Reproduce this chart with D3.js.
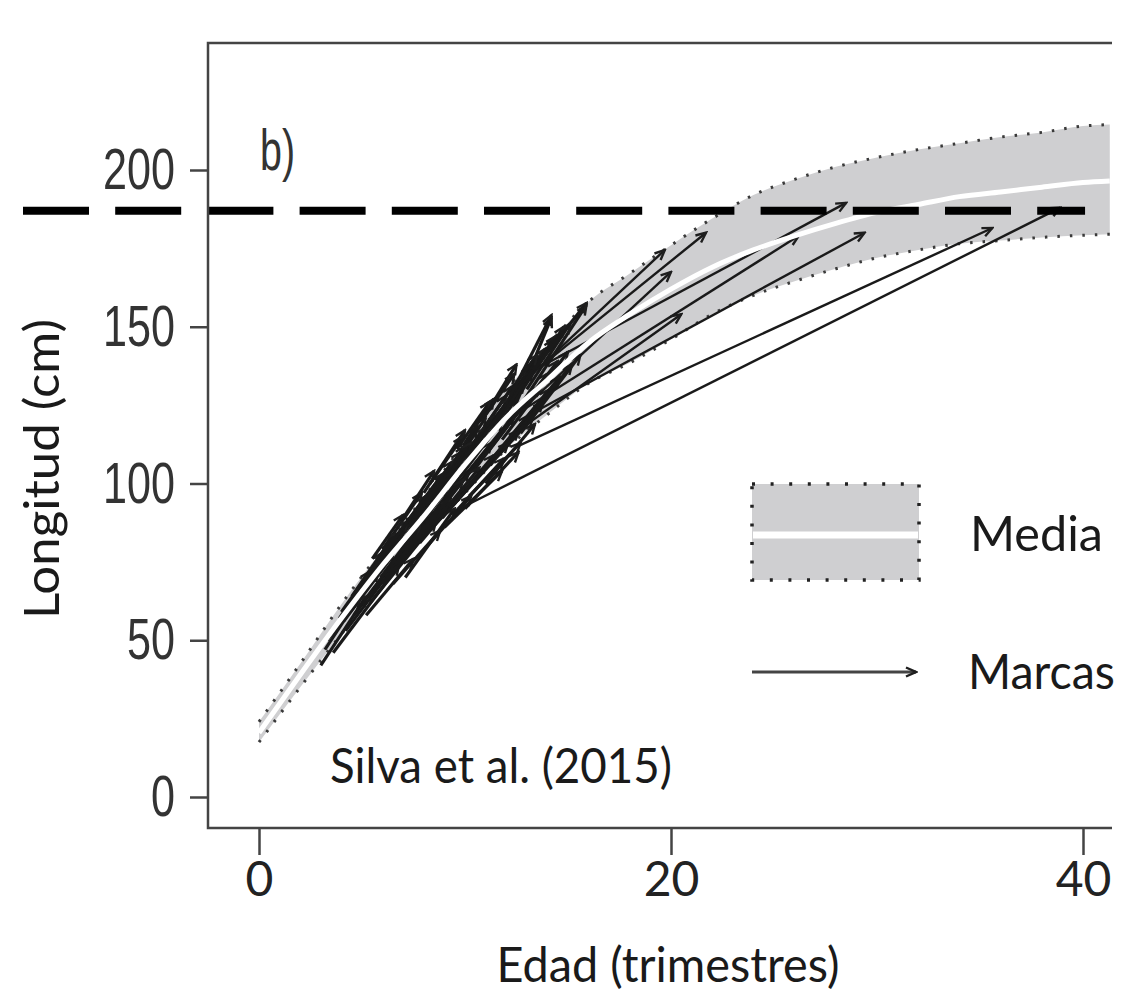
<!DOCTYPE html>
<html>
<head>
<meta charset="utf-8">
<script src="https://cdn.jsdelivr.net/npm/d3@7"></script>
<style>
  body { margin: 0; background: #fff; }
  svg { display: block; }
</style>
</head>
<body>
<svg id="chart" width="1126" height="998"></svg>
<script>
// growth band (age in quarters, length in cm)
var ages     = [0, 2, 4, 6, 8, 10, 12, 14, 16, 18, 20, 22, 24, 26, 28, 30, 32, 34, 36, 38, 40, 41.3];
var meanLen  = [20.5, 39, 57, 74, 89.5, 106, 121, 133, 145, 154, 162, 169, 174.5, 179, 183, 186.5, 189, 191.5, 193, 194.5, 196, 196.5];
var upperLen = [24, 42.5, 61.5, 79, 95.5, 113, 130, 144, 158, 167, 176, 184.5, 192, 197, 201, 204, 206.5, 208.5, 210.5, 212, 214, 214.5];
var lowerLen = [17.5, 35, 52, 68.5, 83, 97, 111, 122, 132, 138.5, 146, 154, 160, 164.5, 168.5, 172, 174.5, 176.5, 177.5, 178.5, 179.2, 179.5];

// tag -> recapture arrows (short ones in the cluster, then the long ones)
var tagAge = [3.2, 3.5, 3.8, 4.1, 4.4, 4.6, 5.0, 5.3, 5.6, 5.9, 6.2, 6.4, 6.8, 7.0, 7.3, 7.6, 7.9, 8.1, 8.4, 8.7,
              9.0, 9.2, 9.5, 9.8, 10.1, 10.4, 10.8, 11.1, 11.5, 11.8, 12.2, 12.6, 6.0, 8.0, 9.9, 11.0, 4.0, 7.1, 9.4, 10.2,
              3.0, 3.3, 3.6, 3.9, 4.2, 4.5, 4.8, 5.1, 5.4, 5.7, 6.0, 6.3, 6.6, 6.9, 7.2, 7.5, 7.8, 8.1, 8.3, 8.6,
              8.9, 9.1, 9.4, 9.7, 10.0, 10.3, 10.6, 10.9, 11.2, 11.6, 11.9, 12.3, 12.7, 13.0, 5.5, 6.9, 8.3, 9.6, 10.8, 12.0,
              5.2, 6.5, 7.9, 9.0, 10.0, 11.0,
              9.9, 12.6, 12.6, 13.6, 11.5, 13.8, 12.8, 13.0, 12.6, 13.3, 12.2];
var tagLen = [47, 52, 55, 56, 62, 58, 66, 64, 71, 70, 77, 73, 80, 78, 86, 83, 90, 87, 94, 91,
              99, 95, 102, 100, 108, 104, 112, 110, 117, 114, 121, 124, 79, 97, 112, 122, 59, 70, 90, 96,
              42, 50, 46, 57, 53, 64, 60, 69, 62, 74, 68, 80, 74, 85, 77, 89, 81, 93, 85, 97,
              89, 102, 93, 106, 98, 110, 102, 115, 107, 120, 111, 125, 116, 130, 76, 88, 100, 111, 120, 128,
              58, 68, 78, 86, 92, 100,
              92.5, 112, 120, 137, 118, 138, 132, 125, 117, 136, 128];
var recAge = [6.1, 5.8, 7.0, 6.5, 7.6, 8.2, 8.0, 9.1, 9.0, 8.4, 9.8, 10.2, 10.0, 11.3, 10.6, 11.8, 11.0, 12.4, 12.0, 12.8,
              12.3, 13.0, 13.2, 13.6, 13.4, 14.0, 13.9, 14.5, 14.3, 15.0, 14.2, 15.9, 7.9, 10.0, 11.4, 12.5, 5.4, 9.5, 11.9, 12.7,
              5.2, 4.9, 6.8, 6.0, 7.3, 6.6, 7.8, 7.2, 8.6, 8.1, 9.3, 8.9, 9.9, 9.4, 10.7, 10.3, 11.4, 11.1, 12.1, 11.6,
              12.6, 12.2, 13.3, 12.9, 13.8, 13.3, 14.1, 13.7, 14.6, 14.4, 15.2, 14.8, 15.6, 15.1, 7.0, 8.5, 9.9, 11.2, 12.4, 13.5,
              7.5, 8.8, 10.3, 11.8, 12.6, 13.4,
              38.9, 35.6, 29.4, 28.5, 26.2, 21.7, 19.7, 20.0, 20.5, 15.9, 14.2];
var recLen = [76, 72, 85, 77, 90, 89, 93, 98, 103, 92, 110, 104, 112, 113, 118, 120, 121, 122, 128, 125,
              131, 127, 137, 131, 139, 135, 143, 139, 146, 142, 153, 157, 97, 117, 127, 138, 72, 92, 108, 113,
              64, 63, 74, 78, 80, 84, 86, 88, 88, 96, 95, 103, 101, 107, 105, 113, 109, 118, 113, 122,
              117, 127, 121, 132, 126, 136, 130, 141, 134, 147, 138, 150, 141, 151, 90, 104, 115, 126, 135, 141,
              76, 85, 96, 104, 110, 119,
              188, 181.5, 180, 189.5, 179, 180, 174.5, 167.5, 154, 157.6, 153.7];

var xTicks = [0, 20, 40];
var yTicks = [0, 50, 100, 150, 200];
var refLength = 187;   // dashed reference length
var refSpan = [-12.5, 40.1];

var svg = d3.select('#chart');
var x = d3.scaleLinear().domain([0, 40]).range([259, 1083]);
var y = d3.scaleLinear().domain([0, 200]).range([797, 170]);
var frame = {left: 208, top: 43, right: 1112, bottom: 828};
var calibri = 'Lato, "Open Sans", sans-serif';
var helv = '"Liberation Sans", Arial, sans-serif';

svg.append('rect').attr('width', 1126).attr('height', 998).attr('fill', '#fff');

var band = ages.map(function(a, i) { return {a: a, m: meanLen[i], lo: lowerLen[i], hi: upperLen[i]}; });

svg.append('path')
    .datum(band)
    .attr('fill', '#cfcfd1')
    .attr('d', d3.area().curve(d3.curveMonotoneX)
        .x(function(d) { return x(d.a); })
        .y0(function(d) { return y(d.lo); })
        .y1(function(d) { return y(d.hi); }));

['lo', 'hi'].forEach(function(k) {
    svg.append('path')
        .datum(band)
        .attr('fill', 'none')
        .attr('stroke', '#3a3a3a')
        .attr('stroke-width', 3)
        .attr('stroke-dasharray', '2.5 10')
        .attr('d', d3.line().curve(d3.curveMonotoneX)
            .x(function(d) { return x(d.a); })
            .y(function(d) { return y(d[k]); }));
});

// arrow heads
var defs = svg.append('defs');
defs.append('marker')
    .attr('id', 'head')
    .attr('markerUnits', 'userSpaceOnUse')
    .attr('viewBox', '-12 -6 14 12')
    .attr('markerWidth', 14).attr('markerHeight', 12)
    .attr('refX', 0).attr('refY', 0)
    .attr('orient', 'auto')
  .append('path')
    .attr('d', 'M-10,-4.5L0,0L-10,4.5')
    .attr('fill', 'none')
    .attr('stroke', '#1e1e1e')
    .attr('stroke-width', 2.4);

var arrows = tagAge.map(function(a, i) {
    return {t1: a, l1: tagLen[i], t2: recAge[i], l2: recLen[i]};
});

svg.append('g').selectAll('line')
    .data(arrows)
    .enter().append('line')
        .attr('x1', function(d) { return x(d.t1); })
        .attr('y1', function(d) { return y(d.l1); })
        .attr('x2', function(d) { return x(d.t2); })
        .attr('y2', function(d) { return y(d.l2); })
        .attr('stroke', '#1a1a1a')
        .attr('stroke-width', function(d) { return d.t2 > 16 ? 2.4 : 3.2; })
        .attr('marker-end', 'url(#head)');

// mean curve
svg.append('path')
    .datum(band)
    .attr('fill', 'none')
    .attr('stroke', '#fff')
    .attr('stroke-width', 5)
    .attr('d', d3.line().curve(d3.curveMonotoneX)
        .x(function(d) { return x(d.a); })
        .y(function(d) { return y(d.m); }));

// dashed reference line
svg.append('line')
    .attr('x1', x(refSpan[0])).attr('x2', x(refSpan[1]))
    .attr('y1', y(refLength)).attr('y2', y(refLength))
    .attr('stroke', '#000')
    .attr('stroke-width', 8)
    .attr('stroke-dasharray', '66 26.2')
    .attr('stroke-dashoffset', 66 + 26.2 - (23 - x(refSpan[0])) % 92.2);

// frame
svg.append('path')
    .attr('d', 'M' + frame.right + ',' + frame.top + 'H' + frame.left + 'V' + frame.bottom + 'H' + frame.right)
    .attr('fill', 'none')
    .attr('stroke', '#444')
    .attr('stroke-width', 2.5);

// axes
var yAxis = svg.append('g')
    .attr('transform', 'translate(' + frame.left + ',0)')
    .call(d3.axisLeft(y).tickValues(yTicks).tickSize(18).tickPadding(15));
yAxis.select('.domain').remove();
yAxis.selectAll('line').attr('stroke', '#444').attr('stroke-width', 2.5);
yAxis.selectAll('text')
    .attr('fill', '#333')
    .style('font-family', helv)
    .style('font-size', '58px')
    .attr('textLength', function(d) { return String(d).length * 24; })
    .attr('lengthAdjust', 'spacingAndGlyphs');

var xAxis = svg.append('g')
    .attr('transform', 'translate(0,' + frame.bottom + ')')
    .call(d3.axisBottom(x).tickValues(xTicks).tickSize(27).tickPadding(7));
xAxis.select('.domain').remove();
xAxis.selectAll('line').attr('stroke', '#444').attr('stroke-width', 2.5);
xAxis.selectAll('text')
    .attr('fill', '#222')
    .style('font-family', calibri)
    .style('font-size', '48px');

// labels
function label(txt, px, py, len, anchor, font, size) {
    return svg.append('text')
        .attr('x', px).attr('y', py)
        .attr('text-anchor', anchor)
        .attr('textLength', len)
        .attr('lengthAdjust', 'spacingAndGlyphs')
        .style('font-family', font)
        .style('font-size', size + 'px')
        .attr('fill', '#1a1a1a')
        .text(txt);
}

label('Edad (trimestres)', 668, 982, 343, 'middle', calibri, 48);
label('Silva et al. (2015)', 330, 783, 342, 'start', calibri, 48);
label('b)', 260, 170, 35, 'start', helv, 58).attr('fill', '#333');
label('Longitud (cm)', 0, 0, 300, 'middle', calibri, 48)
    .attr('transform', 'translate(59,469) rotate(-90)');
label('Media', 970, 551, 133, 'start', calibri, 48);
label('Marcas', 968, 689, 147, 'start', calibri, 48);

// legend
var lg = svg.append('g');
lg.append('rect')
    .attr('x', 752).attr('y', 484).attr('width', 167).attr('height', 96)
    .attr('fill', '#cfcfd1')
    .attr('stroke', '#222').attr('stroke-width', 3.5)
    .attr('stroke-dasharray', '3 15.6');
lg.append('line')
    .attr('x1', 753).attr('x2', 918).attr('y1', 535).attr('y2', 535)
    .attr('stroke', '#fff').attr('stroke-width', 7);
lg.append('line')
    .attr('x1', 752).attr('x2', 916).attr('y1', 672).attr('y2', 672)
    .attr('stroke', '#444').attr('stroke-width', 3)
    .attr('marker-end', 'url(#head)');
</script>
</body>
</html>
